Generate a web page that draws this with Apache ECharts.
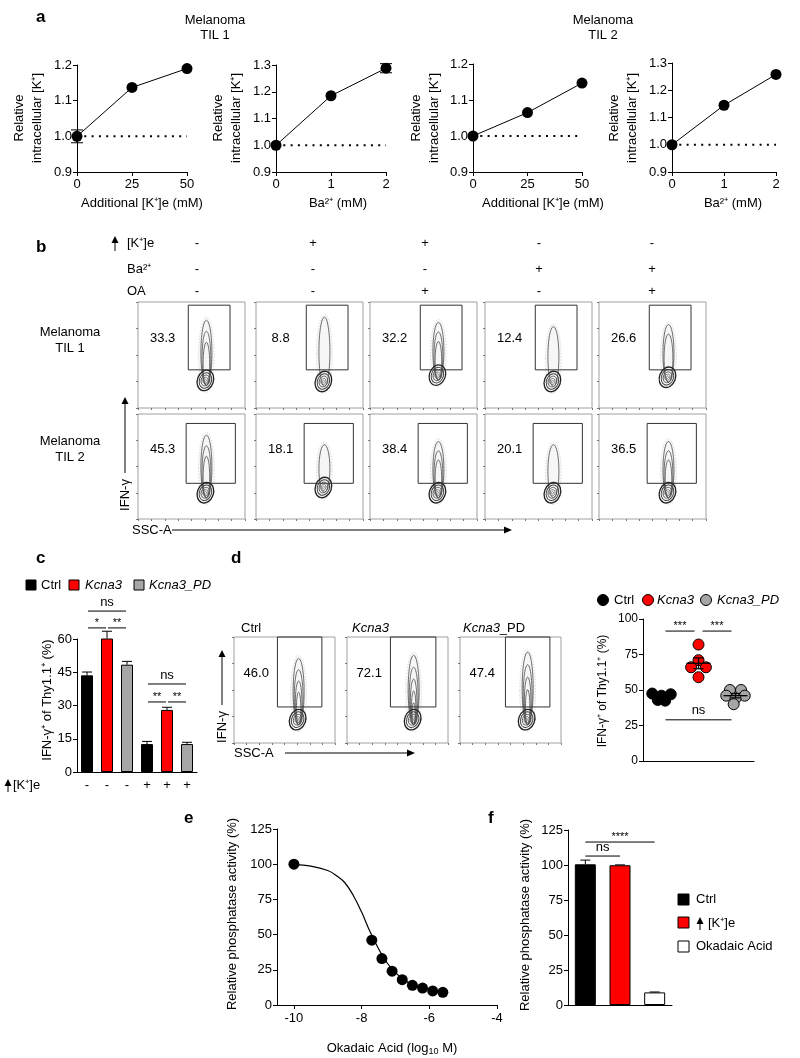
<!DOCTYPE html>
<html><head><meta charset="utf-8">
<script src="https://cdn.jsdelivr.net/npm/echarts@6/dist/echarts.min.js"></script>
<style>html,body{margin:0;padding:0;background:#fff}#c{width:800px;height:1058px}</style>
</head><body><div id="c"></div><script>
// ===================== DATA =====================
// panel a
const aKTicks = [0, 25, 50];
const aBaTicks = [0, 1, 2];
const a1X = [0, 25, 50], a1Y = [1.0, 1.137, 1.19], a1Err = [0.018, 0, 0];
const a2X = [0, 1, 2],   a2Y = [1.0, 1.185, 1.288], a2Err = [0, 0, 0.017];
const a3X = [0, 25, 50], a3Y = [1.0, 1.065, 1.147], a3Err = [0, 0, 0];
const a4X = [0, 1, 2],   a4Y = [1.0, 1.145, 1.258], a4Err = [0, 0, 0];
const aBaseline = 1.0;
// panel b
const bRowNames = ['[K⁺]e', 'Ba²⁺', 'OA'];
const bSignsK  = ['-', '+', '+', '-', '-'];
const bSignsBa = ['-', '-', '-', '+', '+'];
const bSignsOA = ['-', '-', '+', '-', '+'];
const bPctTIL1 = ['33.3', '8.8', '32.2', '12.4', '26.6'];
const bPctTIL2 = ['45.3', '18.1', '38.4', '20.1', '36.5'];
const bCoreTIL1 = [26, 25, 31, 25, 29], bTopTIL1 = [78, 81, 76, 72, 74], bLevTIL1 = [3, 1, 3, 1, 2];
const bCoreTIL2 = [25, 30, 25, 25, 25], bTopTIL2 = [75, 66, 69, 66, 69], bLevTIL2 = [3, 1, 3, 1, 3];
const bPopX = [63, 63, 63, 63, 64];
const bGateTIL1 = [47, 86, 36, 97];
const bGateTIL2 = [45, 91, 34, 91];
// panel c
const cGroups = ['Ctrl', 'Kcna3', 'Kcna3_PD'];
const cSignsK = ['-', '-', '-', '+', '+', '+'];
const cVals = [43.6, 60.3, 48.4, 12.6, 28.0, 12.6];
const cErr  = [1.5, 3.2, 1.5, 1.2, 1.2, 0.8];
const cSig = [[0, 2, 72.6, 'ns'], [0, 1, 65, '*'], [1, 2, 65, '**'], [3, 5, 39.7, 'ns'], [3, 4, 31.6, '**'], [4, 5, 31.6, '**']];
// panel d (flow)
const dNames = ['Ctrl', 'Kcna3', 'Kcna3_PD'];
const dPct = ['46.0', '72.1', '47.4'];
const dPopX = [63, 65, 66], dCore = [22, 22, 22], dTop = [75, 78, 81], dLev = [4, 5, 4];
const dGate = [[43, 87, 34, 100], [43, 88, 34, 100], [45, 89, 34, 100]];
// panel d (dot plot)
const dCtrlVals = [47.5, 47, 46, 43, 42.5], dCtrlJit = [-0.25, 0.25, 0, -0.1, 0.1];
const dKcnaVals = [82, 71, 66, 66, 59],     dKcnaJit = [0, 0, -0.2, 0.2, 0];
const dPDVals = [50, 50, 46, 46, 44, 40],   dPDJit = [-0.15, 0.15, -0.25, 0.25, 0, -0.05];
const dSig = [[0, 1, 91.5, '***'], [1, 2, 91.5, '***'], [0, 2, 29, 'ns']];
// panel e
const eX = [-10, -7.7, -7.4, -7.1, -6.8, -6.5, -6.2, -5.9, -5.6];
const eY = [100, 46, 33, 24, 18, 14, 12, 10, 9];
const eCurveX = [-10, -9.5, -9, -8.75, -8.5, -8.25, -8, -7.75, -7.5, -7.25, -7, -6.75, -6.5, -6.25, -6, -5.75, -5.6];
const eCurveY = [99.7, 98.6, 95.5, 92, 87, 78, 66, 52, 40, 30, 23, 18, 14.5, 12.5, 11, 10, 9.5];
const eTicks = [-10, -8, -6, -4];
// panel f
const fNames = ['Ctrl', '[K⁺]e', 'Okadaic Acid'];
const fVals = [100.5, 99.8, 9];
const fErr = [3, 0.3, 0.3];
const fSig = [[0, 1, 106.4, 'ns'], [0, 2, 116.4, '****']];

// ===================== CHART =====================
const F = 'Liberation Sans, Arial, Helvetica, sans-serif';
const RED = '#ff0000', GREY = '#a6a6a6';
const grid = [], xAxis = [], yAxis = [], series = [], graphic = [];
function addGrid(g, xa, ya) {
  grid.push(Object.assign({ containLabel: false }, g));
  const i = grid.length - 1;
  xAxis.push(Object.assign({ gridIndex: i }, xa));
  yAxis.push(Object.assign({ gridIndex: i }, ya));
  return i;
}
const axLine = { show: true, lineStyle: { color: '#000', width: 1 } };
const axTick = { show: true, length: 4, inside: false, lineStyle: { color: '#000', width: 1 } };
function lab(sz, m) { return { show: true, color: '#000', fontSize: sz || 13, fontFamily: F, margin: m == null ? 5 : m }; }
function valAxis(min, max, interval, extra) {
  return Object.assign({ type: 'value', min, max, interval, axisLine: axLine, axisTick: axTick, axisLabel: lab(), splitLine: { show: false } }, extra || {});
}
function txt(x, y, s, o) {
  graphic.push({ type: 'text', x, y, z: 50, style: Object.assign({ text: s, fill: '#000', fontSize: 13, fontFamily: F, align: 'left', verticalAlign: 'middle' }, o || {}) });
}
function vtxt(x, y, s, o) {
  graphic.push({ type: 'text', x, y, rotation: Math.PI / 2, z: 50, style: Object.assign({ text: s, fill: '#000', fontSize: 13, fontFamily: F, align: 'center', verticalAlign: 'middle', lineHeight: 18 }, o || {}) });
}
function upArrow(x, yTip, yBot) {
  graphic.push({ type: 'polygon', z: 50, shape: { points: [[x, yTip], [x - 3.5, yTip + 7], [x + 3.5, yTip + 7]] }, style: { fill: '#000' } });
  graphic.push({ type: 'line', z: 50, shape: { x1: x, y1: yTip + 6, x2: x, y2: yBot }, style: { stroke: '#000', lineWidth: 1 } });
}
function rightArrow(x0, xTip, y) {
  graphic.push({ type: 'line', z: 50, shape: { x1: x0, y1: y, x2: xTip - 6, y2: y }, style: { stroke: '#000', lineWidth: 1 } });
  graphic.push({ type: 'polygon', z: 50, shape: { points: [[xTip, y], [xTip - 8, y - 3.5], [xTip - 8, y + 3.5]] }, style: { fill: '#000' } });
}
function letter(x, y, s) { txt(x, y, s, { fontSize: 17, fontWeight: 'bold' }); }

function errRender(up, cap) {
  return function (params, api) {
    const x = api.value(0), y = api.value(1), e = api.value(2);
    if (!e) return;
    const pt = api.coord([x, y + e]), pb = api.coord([x, up ? y : y - e]);
    const ch = [
      { type: 'line', shape: { x1: pt[0], y1: pt[1], x2: pb[0], y2: pb[1] }, style: { stroke: '#000', lineWidth: 1 } },
      { type: 'line', shape: { x1: pt[0] - cap, y1: pt[1], x2: pt[0] + cap, y2: pt[1] }, style: { stroke: '#000', lineWidth: 1 } }
    ];
    if (!up) ch.push({ type: 'line', shape: { x1: pb[0] - cap, y1: pb[1], x2: pb[0] + cap, y2: pb[1] }, style: { stroke: '#000', lineWidth: 1 } });
    return { type: 'group', children: ch };
  };
}
function sigRender(list, inset, starSize) {
  return function (params, api) {
    const s = list[params.dataIndex];
    const p1 = api.coord([s[0], s[2]]), p2 = api.coord([s[1], s[2]]);
    const star = s[3].indexOf('*') >= 0;
    return { type: 'group', children: [
      { type: 'line', shape: { x1: p1[0] + inset, y1: p1[1], x2: p2[0] - inset, y2: p1[1] }, style: { stroke: '#000', lineWidth: 1 } },
      { type: 'text', x: (p1[0] + p2[0]) / 2, y: p1[1] - (star ? 5 : 9), style: { text: s[3], fill: '#000', fontSize: star ? starSize : 13, fontFamily: F, align: 'center', verticalAlign: 'middle' } }
    ] };
  };
}

// ---------- panel a ----------
letter(36, 17, 'a');
txt(215, 20, 'Melanoma', { align: 'center' }); txt(215, 35, 'TIL 1', { align: 'center' });
txt(603, 20, 'Melanoma', { align: 'center' }); txt(603, 35, 'TIL 2', { align: 'center' });
const aPanels = [
  { X: a1X, Y: a1Y, E: a1Err, ticks: aKTicks, ymax: 1.2, g: { left: 77, top: 65, width: 110, height: 107 }, xt: 'Additional [K⁺]e (mM)', xtx: 142, ytx: 28 },
  { X: a2X, Y: a2Y, E: a2Err, ticks: aBaTicks, ymax: 1.3, g: { left: 276, top: 65, width: 110, height: 107 }, xt: 'Ba²⁺ (mM)', xtx: 338, ytx: 227 },
  { X: a3X, Y: a3Y, E: a3Err, ticks: aKTicks, ymax: 1.2, g: { left: 473, top: 64, width: 109, height: 108 }, xt: 'Additional [K⁺]e (mM)', xtx: 543, ytx: 425 },
  { X: a4X, Y: a4Y, E: a4Err, ticks: aBaTicks, ymax: 1.3, g: { left: 672, top: 63, width: 104, height: 109 }, xt: 'Ba²⁺ (mM)', xtx: 733, ytx: 623 }
];
aPanels.forEach(p => {
  const t = p.ticks;
  const gi = addGrid(p.g,
    valAxis(t[0], t[t.length - 1], t[1] - t[0], { axisLabel: lab(13, 6) }),
    valAxis(0.9, p.ymax, 0.1, { axisLabel: Object.assign(lab(13, 5), { formatter: v => v.toFixed(1) }) }));
  series.push({ type: 'line', xAxisIndex: gi, yAxisIndex: gi, data: [[t[0], aBaseline], [t[t.length - 1], aBaseline]], symbol: 'none', lineStyle: { color: '#000', width: 2, type: [2, 5.3] }, silent: true, z: 1 });
  series.push({ type: 'line', xAxisIndex: gi, yAxisIndex: gi, data: p.X.map((x, i) => [x, p.Y[i]]), symbol: 'circle', symbolSize: 11, itemStyle: { color: '#000', opacity: 1 }, lineStyle: { color: '#000', width: 1 }, z: 3, silent: true });
  series.push({ type: 'custom', xAxisIndex: gi, yAxisIndex: gi, data: p.X.map((x, i) => [x, p.Y[i], p.E[i]]), renderItem: errRender(false, 6), z: 4, silent: true });
  txt(p.xtx, 203, p.xt, { align: 'center' });
  vtxt(p.ytx, 118, 'Relative\nintracellular [K⁺]');
});

// ---------- flow plot helper ----------
function flowRender(p) {
  return function (params, api) {
    const c = api.coord([p.px, p.core]), t = api.coord([p.px, p.top]);
    const g0 = api.coord([p.gate[0], p.gate[3]]), g1 = api.coord([p.gate[1], p.gate[2]]);
    const ch = [];
    const h = c[1] - t[1];
    ch.push({ type: 'ellipse', shape: { cx: c[0] + 1, cy: c[1] - h / 2 + 2, rx: 8, ry: h / 2 + 10 }, style: { fill: 'rgba(0,0,0,0.035)', stroke: 'rgba(0,0,0,0.22)', lineWidth: 0.7, lineDash: [1, 2] } });
    for (let k = 0; k < p.lv; k++) {
      const f = 1 - k * 0.2;
      const ry = (h * f) / 2 + 5;
      ch.push({ type: 'ellipse', shape: { cx: c[0] + 1, cy: c[1] - ry + 5, rx: Math.max(1.5, 5.5 - k * 1.1), ry: ry }, style: { fill: 'none', stroke: '#4a4a4a', lineWidth: 0.8 } });
    }
    [[8, 10.5, '#222', 1.3], [6, 8, '#444', 1], [4.2, 5.5, '#555', 0.9], [2.5, 3.2, '#666', 0.8], [1, 1.4, '#888', 0.8]].forEach(r => {
      ch.push({ type: 'ellipse', x: c[0], y: c[1], rotation: -0.35, shape: { cx: 0, cy: 0, rx: r[0], ry: r[1] }, style: { fill: 'none', stroke: r[2], lineWidth: r[3] } });
    });
    ch.push({ type: 'rect', shape: { x: g0[0], y: g0[1], width: g1[0] - g0[0], height: g1[1] - g0[1] }, style: { fill: 'none', stroke: '#333', lineWidth: 1 } });
    const lp = api.coord([p.lx, 66]);
    ch.push({ type: 'text', x: lp[0], y: lp[1], style: { text: p.pct, fill: '#000', fontSize: 13, fontFamily: F, align: 'center', verticalAlign: 'middle' } });
    return { type: 'group', children: ch };
  };
}
function flowGrid(g) {
  const hid = { type: 'value', min: 0, max: 100, interval: 25, axisLine: { show: false }, axisLabel: { show: false }, splitLine: { show: false }, axisTick: { show: true, length: 2, lineStyle: { color: '#777' } } };
  return addGrid(Object.assign({ show: true, borderColor: '#a0a0a0', borderWidth: 1 }, g), Object.assign({}, hid, { interval: 12.5 }), hid);
}

// ---------- panel b ----------
letter(36, 247, 'b');
upArrow(115, 236, 251);
txt(127, 243, bRowNames[0]); txt(127, 269, bRowNames[1]); txt(127, 291, bRowNames[2]);
const bColX = [197, 313, 425, 539, 652];
bColX.forEach((x, i) => {
  txt(x, 243, bSignsK[i], { align: 'center' });
  txt(x, 269, bSignsBa[i], { align: 'center' });
  txt(x, 291, bSignsOA[i], { align: 'center' });
});
txt(70, 332, 'Melanoma', { align: 'center' }); txt(70, 348, 'TIL 1', { align: 'center' });
txt(70, 441, 'Melanoma', { align: 'center' }); txt(70, 457, 'TIL 2', { align: 'center' });
const bLeft = [138, 256, 370, 485, 599];
bLeft.forEach((l, i) => {
  const g1 = flowGrid({ left: l, top: 302, width: 107, height: 106 });
  series.push({ type: 'custom', xAxisIndex: g1, yAxisIndex: g1, data: [[bPopX[i], bCoreTIL1[i]]], silent: true,
    renderItem: flowRender({ px: bPopX[i], core: bCoreTIL1[i], top: bTopTIL1[i], lv: bLevTIL1[i], gate: bGateTIL1, pct: bPctTIL1[i], lx: 23 }) });
  const g2 = flowGrid({ left: l, top: 414, width: 107, height: 105 });
  series.push({ type: 'custom', xAxisIndex: g2, yAxisIndex: g2, data: [[bPopX[i], bCoreTIL2[i]]], silent: true,
    renderItem: flowRender({ px: bPopX[i], core: bCoreTIL2[i], top: bTopTIL2[i], lv: bLevTIL2[i], gate: bGateTIL2, pct: bPctTIL2[i], lx: 23 }) });
});
upArrow(125, 397, 473);
vtxt(125, 495, 'IFN-γ');
txt(132, 530, 'SSC-A');
rightArrow(172, 512, 530);

// ---------- panel c ----------
letter(36, 558, 'c');
graphic.push({ type: 'rect', shape: { x: 26, y: 580, width: 10, height: 10 }, style: { fill: '#000', stroke: '#000' } });
txt(41, 585, 'Ctrl');
graphic.push({ type: 'rect', shape: { x: 69, y: 580, width: 10, height: 10 }, style: { fill: RED, stroke: '#000' } });
txt(85, 585, 'Kcna3', { fontStyle: 'italic' });
graphic.push({ type: 'rect', shape: { x: 134, y: 580, width: 10, height: 10 }, style: { fill: GREY, stroke: '#000' } });
txt(149, 585, 'Kcna3_PD', { fontStyle: 'italic' });
const cColors = ['#000', RED, GREY, '#000', RED, GREY];
const gc = addGrid({ left: 77, top: 639, width: 120, height: 133 },
  { type: 'category', data: cSignsK.map((s, i) => String(i)), axisLine: axLine, axisTick: { show: false }, axisLabel: Object.assign(lab(13, 7), { formatter: (v, i) => cSignsK[i] }) },
  valAxis(0, 60, 15));
series.push({ type: 'bar', xAxisIndex: gc, yAxisIndex: gc, barWidth: 12, silent: true,
  data: cVals.map((v, i) => ({ value: v, itemStyle: { color: cColors[i], borderColor: '#000', borderWidth: 1 } })) });
series.push({ type: 'custom', xAxisIndex: gc, yAxisIndex: gc, data: cVals.map((v, i) => [i, v, cErr[i]]), renderItem: errRender(true, 5), z: 4, silent: true });
series.push({ type: 'custom', xAxisIndex: gc, yAxisIndex: gc, data: cSig.map(s => [s[0], s[2]]), renderItem: sigRender(cSig, 1, 11), z: 4, silent: true, clip: false });
vtxt(47, 700, 'IFN-γ⁺ of Thy1.1⁺ (%)');
upArrow(8, 779, 792);
txt(13, 785, '[K⁺]e');

// ---------- panel d (flow) ----------
letter(231, 558, 'd');
const dLeft = [234, 347, 460];
dLeft.forEach((l, i) => {
  const g = flowGrid({ left: l, top: 637, width: 101, height: 106 });
  series.push({ type: 'custom', xAxisIndex: g, yAxisIndex: g, data: [[dPopX[i], dCore[i]]], silent: true,
    renderItem: flowRender({ px: dPopX[i], core: dCore[i], top: dTop[i], lv: dLev[i], gate: dGate[i], pct: dPct[i], lx: 22 }) });
});
txt(241, 628, dNames[0]);
txt(352, 628, dNames[1], { fontStyle: 'italic' });
txt(463, 628, '{i|Kcna3}_PD', { rich: { i: { fontStyle: 'italic', fontSize: 13, fontFamily: F } } });
upArrow(222, 650, 705);
vtxt(222, 727, 'IFN-γ');
txt(234, 753, 'SSC-A');
rightArrow(285, 415, 753);

// ---------- panel d (dot plot) ----------
graphic.push({ type: 'circle', shape: { cx: 603, cy: 600, r: 5.5 }, style: { fill: '#000', stroke: '#000' } });
txt(614, 600, 'Ctrl');
graphic.push({ type: 'circle', shape: { cx: 648, cy: 600, r: 5.5 }, style: { fill: RED, stroke: '#000' } });
txt(657, 600, 'Kcna3', { fontStyle: 'italic' });
graphic.push({ type: 'circle', shape: { cx: 706, cy: 600, r: 5.5 }, style: { fill: GREY, stroke: '#000' } });
txt(717, 600, 'Kcna3_PD', { fontStyle: 'italic' });
const gd = addGrid({ left: 643, top: 619, width: 111, height: 142 },
  { type: 'value', min: 0, max: 3, axisLine: axLine, axisTick: { show: false }, axisLabel: { show: false }, splitLine: { show: false } },
  valAxis(0, 100, 25, { axisLabel: lab(12, 5) }));
const dGroups = [[dCtrlVals, dCtrlJit, '#000'], [dKcnaVals, dKcnaJit, RED], [dPDVals, dPDJit, GREY]];
dGroups.forEach((g, gi) => {
  series.push({ type: 'scatter', xAxisIndex: gd, yAxisIndex: gd, symbolSize: 11, silent: true,
    itemStyle: { color: g[2], borderColor: '#000', borderWidth: 1, opacity: 1 }, data: g[0].map((v, i) => [gi + 0.5 + g[1][i], v]) });
  const n = g[0].length, m = g[0].reduce((a, b) => a + b, 0) / n;
  const sd = Math.sqrt(g[0].reduce((a, b) => a + (b - m) * (b - m), 0) / (n - 1));
  series.push({ type: 'custom', xAxisIndex: gd, yAxisIndex: gd, data: [[gi + 0.5, m, sd / Math.sqrt(n)]], z: 5, silent: true,
    renderItem: function (params, api) {
      const pm = api.coord([api.value(0), api.value(1)]);
      const pt = api.coord([api.value(0), api.value(1) + api.value(2)]);
      const pb = api.coord([api.value(0), api.value(1) - api.value(2)]);
      const st = { stroke: '#000', lineWidth: 1.3 };
      return { type: 'group', children: [
        { type: 'line', shape: { x1: pm[0] - 12, y1: pm[1], x2: pm[0] + 12, y2: pm[1] }, style: st },
        { type: 'line', shape: { x1: pt[0], y1: pt[1], x2: pb[0], y2: pb[1] }, style: st },
        { type: 'line', shape: { x1: pt[0] - 5, y1: pt[1], x2: pt[0] + 5, y2: pt[1] }, style: st },
        { type: 'line', shape: { x1: pb[0] - 5, y1: pb[1], x2: pb[0] + 5, y2: pb[1] }, style: st }
      ] };
    } });
});
series.push({ type: 'custom', xAxisIndex: gd, yAxisIndex: gd, data: dSig.map(s => [s[0] + 0.5, s[2]]), z: 4, silent: true, clip: false,
  renderItem: sigRender(dSig.map(s => [s[0] + 0.5, s[1] + 0.5, s[2], s[3]]), 4, 11) });
vtxt(603, 691, 'IFN-γ⁺ of Thy1.1⁺ (%)', { fontSize: 12 });

// ---------- panel e ----------
letter(184, 818, 'e');
const ge = addGrid({ left: 277, top: 829, width: 220, height: 176 },
  { type: 'value', min: -10.5, max: -4, axisLine: axLine, splitLine: { show: false },
    axisTick: Object.assign({}, axTick, { customValues: eTicks }), axisLabel: Object.assign(lab(13, 7), { customValues: eTicks }) },
  valAxis(0, 125, 25));
series.push({ type: 'line', xAxisIndex: ge, yAxisIndex: ge, smooth: 0.4, symbol: 'none', silent: true, lineStyle: { color: '#000', width: 1.2 }, z: 2,
  data: eCurveX.map((x, i) => [x, eCurveY[i]]) });
series.push({ type: 'scatter', xAxisIndex: ge, yAxisIndex: ge, symbolSize: 11, silent: true, itemStyle: { color: '#000', opacity: 1 }, z: 3,
  data: eX.map((x, i) => [x, eY[i]]) });
vtxt(232, 914, 'Relative phosphatase activity (%)');
txt(392, 1048, '{a|Okadaic Acid (log}{s|10}{a| M)}', { align: 'center', rich: { a: { fontSize: 13, fontFamily: F }, s: { fontSize: 9, fontFamily: F, padding: [8, 0, 0, 0] } } });

// ---------- panel f ----------
letter(488, 818, 'f');
const fColors = ['#000', RED, '#fff'];
const gf = addGrid({ left: 568, top: 830, width: 104, height: 175 },
  { type: 'category', data: fNames, axisLine: axLine, axisTick: { show: false }, axisLabel: { show: false } },
  valAxis(0, 125, 25));
series.push({ type: 'bar', xAxisIndex: gf, yAxisIndex: gf, barWidth: 21, silent: true,
  data: fVals.map((v, i) => ({ value: v, itemStyle: { color: fColors[i], borderColor: '#000', borderWidth: 1 } })) });
series.push({ type: 'custom', xAxisIndex: gf, yAxisIndex: gf, data: fVals.map((v, i) => [i, v, fErr[i]]), renderItem: errRender(true, 5), z: 4, silent: true });
series.push({ type: 'custom', xAxisIndex: gf, yAxisIndex: gf, data: fSig.map(s => [s[0], s[2]]), renderItem: sigRender(fSig, 0, 11), z: 4, silent: true, clip: false });
vtxt(525, 915, 'Relative phosphatase activity (%)');
graphic.push({ type: 'rect', shape: { x: 678, y: 894, width: 11, height: 11 }, style: { fill: '#000', stroke: '#000' } });
txt(696, 899, fNames[0]);
graphic.push({ type: 'rect', shape: { x: 678, y: 917, width: 11, height: 11 }, style: { fill: RED, stroke: '#000' } });
upArrow(700, 917, 930);
txt(708, 923, fNames[1]);
graphic.push({ type: 'rect', shape: { x: 678, y: 941, width: 11, height: 11 }, style: { fill: '#fff', stroke: '#000' } });
txt(696, 946, fNames[2]);

const chart = echarts.init(document.getElementById('c'), null, { renderer: 'canvas', width: 800, height: 1058 });
chart.setOption({ animation: false, backgroundColor: '#fff', textStyle: { fontFamily: F }, grid, xAxis, yAxis, series, graphic });
</script></body></html>
